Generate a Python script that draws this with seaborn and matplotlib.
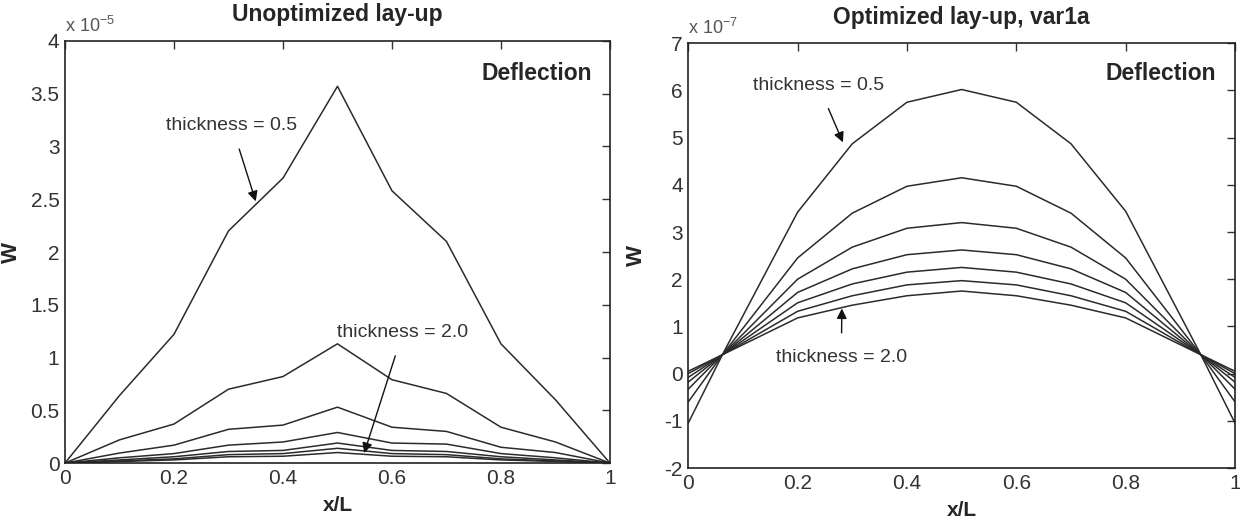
import numpy as np
import pandas as pd
import matplotlib
matplotlib.use('Agg')
import matplotlib.pyplot as plt
import seaborn as sns

# ---- data (W in units of 1e-5 left, 1e-7 right) ----
x_unopt = [0.0, 0.1, 0.2, 0.3, 0.4, 0.5, 0.6, 0.7, 0.8, 0.9, 1.0]
w_unopt = {
    't1': [0, 0.64, 1.22, 2.20, 2.70, 3.57, 2.58, 2.10, 1.13, 0.60, 0],
    't2': [0, 0.22, 0.37, 0.70, 0.82, 1.13, 0.79, 0.66, 0.34, 0.20, 0],
    't3': [0, 0.095, 0.17, 0.32, 0.36, 0.53, 0.34, 0.30, 0.15, 0.10, 0],
    't4': [0, 0.05, 0.09, 0.17, 0.20, 0.29, 0.19, 0.18, 0.09, 0.05, 0],
    't5': [0, 0.03, 0.06, 0.11, 0.12, 0.19, 0.12, 0.11, 0.06, 0.03, 0],
    't6': [0, 0.02, 0.04, 0.08, 0.09, 0.14, 0.09, 0.08, 0.04, 0.02, 0],
    't7': [0, 0.015, 0.03, 0.06, 0.065, 0.10, 0.065, 0.06, 0.03, 0.015, 0],
}

x_opt = [0.0, 0.0625, 0.2, 0.3, 0.4, 0.5, 0.6, 0.7, 0.8, 0.9375, 1.0]
w_opt = {
    't1': [-1.05, 0.40, 3.42, 4.87, 5.75, 6.02, 5.75, 4.87, 3.44, 0.40, -1.05],
    't2': [-0.60, 0.40, 2.45, 3.40, 3.97, 4.15, 3.97, 3.40, 2.45, 0.40, -0.60],
    't3': [-0.33, 0.40, 2.00, 2.68, 3.08, 3.20, 3.08, 2.68, 2.00, 0.40, -0.33],
    't4': [-0.18, 0.40, 1.72, 2.22, 2.52, 2.62, 2.52, 2.22, 1.72, 0.40, -0.18],
    't5': [-0.08, 0.40, 1.50, 1.90, 2.15, 2.25, 2.15, 1.90, 1.50, 0.40, -0.08],
    't6': [0.00, 0.40, 1.32, 1.65, 1.88, 1.97, 1.88, 1.65, 1.32, 0.40, 0.00],
    't7': [0.05, 0.40, 1.18, 1.45, 1.65, 1.75, 1.65, 1.45, 1.18, 0.40, 0.05],
}

sns.set_style('white')
plt.rcParams['font.family'] = ['Liberation Sans', 'DejaVu Sans']
plt.rcParams['mathtext.fontset'] = 'custom'
plt.rcParams['mathtext.rm'] = 'Liberation Sans'
plt.rcParams['mathtext.default'] = 'rm'

line_col = '#2b2b2b'
text_col = '#333333'


def long_df(x, series):
    rows = []
    for name, vals in series.items():
        for xi, yi in zip(x, vals):
            rows.append({'x': xi, 'w': yi, 'curve': name})
    return pd.DataFrame(rows)


def style_axes(ax, yticks, ylab_x):
    ax.set_xlim(0, 1)
    ax.set_xticks([0, 0.2, 0.4, 0.6, 0.8, 1])
    ax.set_xticklabels(['0', '0.2', '0.4', '0.6', '0.8', '1'])
    ax.set_yticks(yticks)
    ax.set_yticklabels([('%g' % t) for t in yticks])
    ax.tick_params(direction='in', top=True, right=True, length=6, width=1,
                   labelsize=15, colors=text_col, pad=4)
    for s in ax.spines.values():
        s.set_color('#222222')
        s.set_linewidth(1.2)
    ax.set_xlabel('x/L', fontsize=15, fontweight='bold', labelpad=6)
    ax.set_ylabel('W', fontsize=16, fontweight='bold')
    ax.yaxis.set_label_coords(ylab_x, 0.5)


def arrow(ax, label, tip, txt):
    ax.annotate(label, xy=tip, xytext=txt, fontsize=14, color=text_col,
                ha='center', va='center',
                arrowprops=dict(arrowstyle='-|>', color='#111111', lw=1,
                                mutation_scale=15, shrinkA=9, shrinkB=0))


fig = plt.figure(figsize=(12.4, 5.18), dpi=100)
ax1 = fig.add_axes([0.0524, 0.106, 0.4395, 0.815])
ax2 = fig.add_axes([0.555, 0.0965, 0.441, 0.820])

# left panel
df1 = long_df(x_unopt, w_unopt)
sns.lineplot(data=df1, x='x', y='w', hue='curve', palette=[line_col] * 7,
             estimator=None, legend=False, linewidth=1.1, ax=ax1)
ax1.set_ylim(0, 4)
style_axes(ax1, [0, 0.5, 1, 1.5, 2, 2.5, 3, 3.5, 4], -0.078)
ax1.set_title('Unoptimized lay-up', fontsize=16.5, fontweight='bold', pad=14)
ax1.text(0.0, 1.012, r'x 10$^{-5}$', transform=ax1.transAxes, fontsize=13,
         color='#555555', ha='left', va='bottom')
ax1.text(0.866, 0.924, 'Deflection', transform=ax1.transAxes, fontsize=16.5,
         fontweight='bold', ha='center', va='center')
arrow(ax1, 'thickness = 0.5', (0.35, 2.48), (0.306, 3.2))
arrow(ax1, 'thickness = 2.0', (0.549, 0.095), (0.62, 1.24))

# right panel
df2 = long_df(x_opt, w_opt)
sns.lineplot(data=df2, x='x', y='w', hue='curve', palette=[line_col] * 7,
             estimator=None, legend=False, linewidth=1.1, ax=ax2)
ax2.set_ylim(-2, 7)
style_axes(ax2, [-2, -1, 0, 1, 2, 3, 4, 5, 6, 7], -0.075)
ax2.set_title('Optimized lay-up, var1a', fontsize=16.5, fontweight='bold', pad=14)
ax2.text(0.0, 1.012, r'x 10$^{-7}$', transform=ax2.transAxes, fontsize=13,
         color='#555555', ha='left', va='bottom')
ax2.text(0.865, 0.929, 'Deflection', transform=ax2.transAxes, fontsize=16.5,
         fontweight='bold', ha='center', va='center')
arrow(ax2, 'thickness = 0.5', (0.283, 4.9), (0.238, 6.11))
arrow(ax2, 'thickness = 2.0', (0.281, 1.38), (0.28, 0.35))

fig.savefig('out.png', dpi=100)
